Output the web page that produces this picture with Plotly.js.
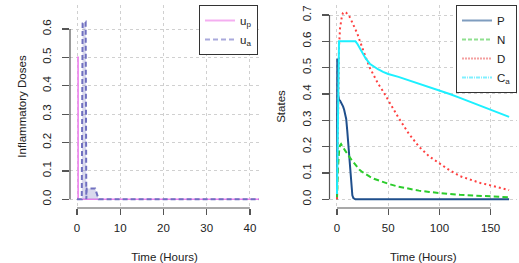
<!DOCTYPE html>
<html>
<head>
<meta charset="utf-8">
<script src="https://cdn.plot.ly/plotly-3.0.1.min.js"></script>
<style>html,body{margin:0;padding:0;background:#fff;}#chart{width:519px;height:263px;}</style>
</head>
<body>
<div id="chart"></div>
<script>
// ---------- Left panel: inflammatory doses ----------
const doseTimeP = [0, 0.25, 0.26, 42.5];
const doseUp    = [0.5, 0.5, 0, 0];
const doseTimeA = [0, 1.1, 1.3, 2.0, 2.15, 2.25, 4.2, 5.0, 42.5];
const doseUa    = [0, 0, 0.62, 0.625, 0, 0.038, 0.038, 0, 0];
const leftXTicks = [0, 10, 20, 30, 40];
const leftYTicks = [0, 0.1, 0.2, 0.3, 0.4, 0.5, 0.6];
const leftYTickText = ["0.0", "0.1", "0.2", "0.3", "0.4", "0.5", "0.6"];

// ---------- Right panel: states ----------
const stateTime = [0, 0.3, 1, 2, 3, 4, 5, 6, 7, 8, 9, 10, 11, 12, 13, 14, 15, 16, 18, 20, 22, 25, 28, 32, 36, 40, 45, 50, 60, 70, 80, 90, 100, 110, 120, 130, 140, 150, 160, 168];
const stateP  = [0, 0.535, 0.40, 0.378, 0.375, 0.368, 0.36, 0.352, 0.34, 0.325, 0.305, 0.262, 0.21, 0.14, 0.085, 0.04, 0.015, 0.005, 0.0, 0, 0, 0, 0, 0, 0, 0, 0, 0, 0, 0, 0, 0, 0, 0, 0, 0, 0, 0, 0, 0];
const stateN  = [0, 0.05, 0.12, 0.18, 0.205, 0.21, 0.205, 0.198, 0.191, 0.185, 0.178, 0.172, 0.167, 0.162, 0.156, 0.151, 0.145, 0.138, 0.13, 0.12, 0.112, 0.103, 0.095, 0.086, 0.078, 0.072, 0.065, 0.059, 0.048, 0.040, 0.033, 0.028, 0.023, 0.020, 0.017, 0.015, 0.013, 0.011, 0.009, 0.008];
const stateD  = [0, 0.1, 0.35, 0.58, 0.65, 0.685, 0.70, 0.708, 0.712, 0.712, 0.709, 0.705, 0.70, 0.695, 0.688, 0.68, 0.673, 0.665, 0.648, 0.628, 0.605, 0.57, 0.54, 0.50, 0.47, 0.44, 0.41, 0.377, 0.31, 0.25, 0.20, 0.163, 0.135, 0.11, 0.088, 0.075, 0.062, 0.053, 0.043, 0.035];
const stateCa = [0.02, 0.12, 0.5, 0.6, 0.6, 0.6, 0.6, 0.6, 0.6, 0.6, 0.6, 0.6, 0.6, 0.6, 0.6, 0.6, 0.6, 0.6, 0.6, 0.59, 0.575, 0.555, 0.535, 0.515, 0.503, 0.494, 0.484, 0.476, 0.465, 0.452, 0.44, 0.428, 0.415, 0.40, 0.385, 0.37, 0.355, 0.339, 0.325, 0.313];
const rightXTicks = [0, 50, 100, 150];
const rightYTicks = [0, 0.1, 0.2, 0.3, 0.4, 0.5, 0.6, 0.7];
const rightYTickText = ["0.0", "0.1", "0.2", "0.3", "0.4", "0.5", "0.6", "0.7"];

const FONT = '"Liberation Sans", Arial, Helvetica, sans-serif';
const W = 519, H = 263;
const axisCol = '#555555';
const gridCol = '#d0d0d0';

function line(x, y, xa, ya, color, dash, width, extra) {
  return Object.assign({x: x, y: y, xaxis: xa, yaxis: ya, type: 'scatter', mode: 'lines',
    line: {color: color, dash: dash, width: width}, showlegend: false, hoverinfo: 'skip'}, extra || {});
}
function legendItem(name, color, dash, legend) {
  return {x: [null], y: [null], type: 'scatter', mode: 'lines', name: name,
    line: {color: color, dash: dash, width: 2}, showlegend: true, legend: legend,
    xaxis: legend === 'legend' ? 'x' : 'x2', yaxis: legend === 'legend' ? 'y' : 'y2'};
}

const traces = [
  line(doseTimeP, doseUp, 'x', 'y', '#ee82ee', 'solid', 1.6),
  line(doseTimeA, doseUa, 'x', 'y', '#7070c0', '5px,3px', 2,
       {fill: 'tozeroy', fillcolor: 'rgba(120,120,190,0.28)'}),
  legendItem('u<sub>p</sub>', '#f4aef0', 'solid', 'legend'),
  legendItem('u<sub>a</sub>', '#a9a9dc', '5px,3px', 'legend'),
  line(stateTime, stateP, 'x2', 'y2', '#1f4f8c', 'solid', 2),
  line(stateTime, stateN, 'x2', 'y2', '#2ccc2c', '5.5px,3.2px', 2),
  line(stateTime, stateD, 'x2', 'y2', '#ff4040', '2px,3px', 2),
  line(stateTime, stateCa, 'x2', 'y2', '#1cf0ff', 'solid', 2),
  legendItem('P', '#7f9dbf', 'solid', 'legend2'),
  legendItem('N', '#90e090', '4px,2px', 'legend2'),
  legendItem('D', '#f4a0a0', '2px,1px', 'legend2'),
  legendItem('C<sub>a</sub>', '#80f0ff', '4px,1px,1px,1px', 'legend2')
];

const tickFont = {family: FONT, size: 11.5, color: '#222'};
function xAxis(domain, range, ticks, anchor) {
  return {domain: domain, range: range, anchor: anchor, tickmode: 'array', tickvals: ticks,
    ticks: 'outside', ticklen: 6, tickwidth: 1.2, tickcolor: axisCol, tickfont: tickFont,
    ticklabelstandoff: 3,
    showline: false, zeroline: false, showgrid: true, gridcolor: gridCol, griddash: 'dot', gridwidth: 1,
    title: {text: 'Time (Hours)', font: {family: FONT, size: 11.5, color: '#222'}, standoff: 20},
    fixedrange: true};
}
function yAxis(domain, range, ticks, text, anchor, title) {
  return {domain: domain, range: range, anchor: anchor, tickmode: 'array', tickvals: ticks, ticktext: text,
    ticks: 'outside', ticklen: 7, tickwidth: 1.2, tickcolor: axisCol, tickfont: tickFont, tickangle: -90,
    ticklabelstandoff: 6,
    showline: false, zeroline: false, showgrid: true, gridcolor: gridCol, griddash: 'dot', gridwidth: 1,
    title: {text: title, font: {family: FONT, size: 11.5, color: '#222'}, standoff: 12},
    fixedrange: true};
}

const yDom = [(H - 208) / H, (H - 5) / H];
const legendFont = {family: FONT, size: 11.5, color: '#222'};
const layout = {
  width: W, height: H, margin: {l: 0, r: 0, t: 0, b: 0},
  paper_bgcolor: '#fff', plot_bgcolor: '#fff',
  font: {family: FONT, color: '#222'},
  xaxis: xAxis([70 / W, 259 / W], [-1.62, 42.1], leftXTicks, 'y'),
  yaxis: yAxis(yDom, [-0.0307, 0.6846], leftYTicks, leftYTickText, 'x', 'Inflammatory Doses'),
  xaxis2: xAxis([329.5 / W, 517 / W], [-7.3, 175.7], rightXTicks, 'y2'),
  yaxis2: yAxis(yDom, [-0.033, 0.738], rightYTicks, rightYTickText, 'x2', 'States'),
  legend: {x: 258 / W, xanchor: 'right', y: yDom[1], yanchor: 'top', bgcolor: '#fff',
    bordercolor: '#333', borderwidth: 1, font: legendFont,
    tracegroupgap: 0, itemclick: false, itemdoubleclick: false},
  legend2: {x: 517 / W, xanchor: 'right', y: yDom[1], yanchor: 'top', bgcolor: '#fff',
    bordercolor: '#333', borderwidth: 1, font: legendFont,
    tracegroupgap: 0, itemclick: false, itemdoubleclick: false},
  shapes: [
    {type: 'line', xref: 'x', yref: 'y domain', x0: leftXTicks[0], x1: leftXTicks[leftXTicks.length - 1], y0: 0, y1: 0, line: {color: axisCol, width: 1.2}},
    {type: 'line', xref: 'x domain', yref: 'y', x0: 0, x1: 0, y0: leftYTicks[0], y1: leftYTicks[leftYTicks.length - 1], line: {color: axisCol, width: 1.2}},
    {type: 'line', xref: 'x2', yref: 'y2 domain', x0: rightXTicks[0], x1: rightXTicks[rightXTicks.length - 1], y0: 0, y1: 0, line: {color: axisCol, width: 1.2}},
    {type: 'line', xref: 'x2 domain', yref: 'y2', x0: 0, x1: 0, y0: rightYTicks[0], y1: rightYTicks[rightYTicks.length - 1], line: {color: axisCol, width: 1.2}}
  ],
  showlegend: true
};

Plotly.newPlot('chart', traces, layout, {staticPlot: true, displayModeBar: false});
</script>
</body>
</html>
